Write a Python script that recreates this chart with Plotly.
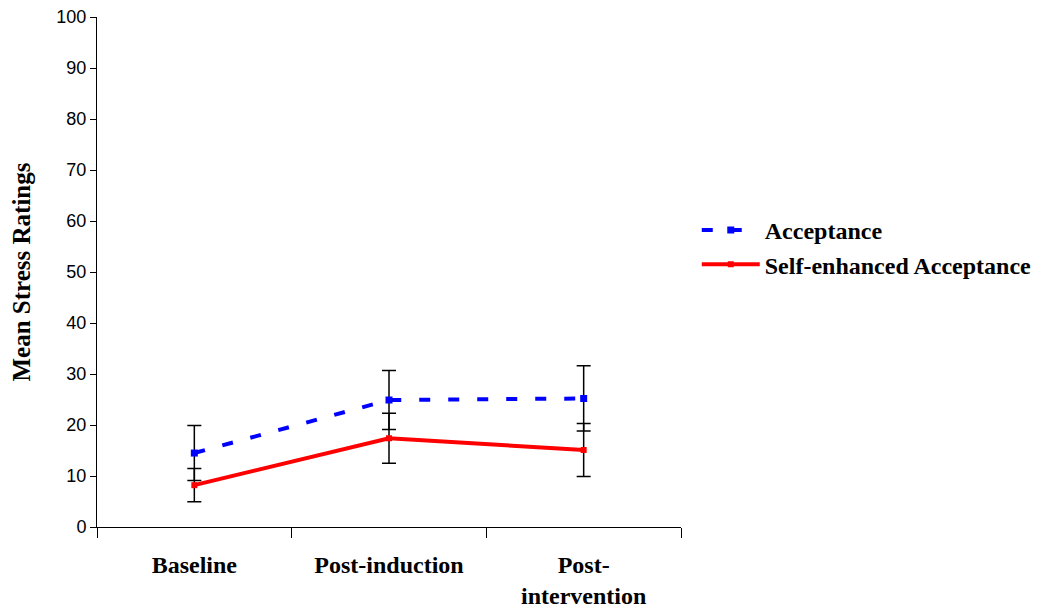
import plotly.graph_objects as go

categories = ["Baseline", "Post-induction", "Post-<br>intervention"]
acceptance = [14.5, 24.9, 25.2]
acceptance_err = [5.4, 5.8, 6.4]
self_enhanced = [8.2, 17.4, 15.1]
self_enhanced_err = [3.25, 4.9, 5.2]
y_ticks = [0, 10, 20, 30, 40, 50, 60, 70, 80, 90, 100]

fig = go.Figure()
fig.add_trace(go.Scatter(
    x=categories, y=acceptance, name="<b>Acceptance</b>",
    mode="lines+markers",
    line=dict(color="#0000FF", width=4, dash="11px,18px"),
    marker=dict(symbol="square", size=7, color="#0000FF"),
    error_y=dict(type="data", array=acceptance_err, visible=True,
                 color="black", thickness=1.5, width=7),
))
fig.add_trace(go.Scatter(
    x=categories, y=self_enhanced, name="<b>Self-enhanced Acceptance</b>",
    mode="lines+markers",
    line=dict(color="#FF0000", width=4),
    marker=dict(symbol="square", size=6, color="#FF0000"),
    error_y=dict(type="data", array=self_enhanced_err, visible=True,
                 color="black", thickness=1.5, width=7),
))

fig.update_layout(
    width=1056, height=613,
    margin=dict(l=97, r=375, t=17, b=86),
    plot_bgcolor="white", paper_bgcolor="white",
    showlegend=True,
    legend=dict(x=1.027, y=0.548, xanchor="left", yanchor="middle",
                itemwidth=58,
                font=dict(family="Liberation Serif", size=24, color="black"),
                tracegroupgap=12, bgcolor="rgba(0,0,0,0)"),
    xaxis=dict(
        type="category", tickson="boundaries", ticks="outside", ticklen=10,
        tickcolor="black", showline=True, linecolor="black", linewidth=1,
        showgrid=False, range=[-0.5, 2.5], automargin=False,
        tickfont=dict(family="Liberation Serif", size=24, color="black"),
        ticklabelstandoff=16,
    ),
    yaxis=dict(
        range=[0, 100], tickvals=y_ticks, ticks="outside", ticklen=6,
        tickcolor="black", showline=True, linecolor="black", linewidth=1,
        showgrid=False, zeroline=False, automargin=False,
        tickfont=dict(family="Liberation Sans", size=18, color="black"),
        title=dict(text="<b>Mean Stress Ratings</b>",
                   font=dict(family="Liberation Serif", size=25, color="black"),
                   standoff=18),
    ),
)
fig.update_xaxes(tickvals=categories,
                 ticktext=["<b>" + c + "</b>" for c in categories])

fig.write_html("out.html")
